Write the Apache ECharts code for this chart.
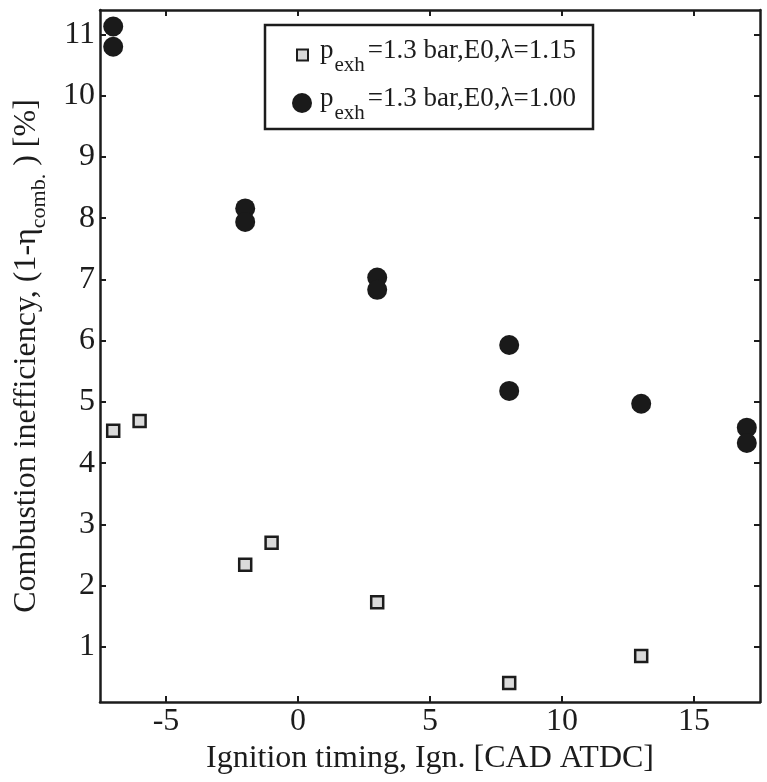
<!DOCTYPE html>
<html>
<head>
<meta charset="utf-8">
<script src="https://cdn.jsdelivr.net/npm/echarts@6/dist/echarts.min.js"></script>
<style>
  html, body { margin: 0; padding: 0; background: #fff; }
  #chart { width: 767px; height: 782px; }
</style>
</head>
<body>
<div id="chart"></div>
<script>
// Ignition timing sweep, p_exh = 1.3 bar, E0 fuel
const timingLean = [-7, -6, -2, -1, 3, 8, 13];
const ineffLean = [4.53, 4.69, 2.34, 2.70, 1.73, 0.41, 0.85];

const timingStoich = [-7, -7, -2, -2, 3, 3, 8, 8, 13, 17, 17];
const ineffStoich = [11.13, 10.80, 8.16, 7.94, 7.03, 6.83, 5.93, 5.18, 4.97, 4.58, 4.33];

const xTicks = [-5, 0, 5, 10, 15];
const yTicks = [1, 2, 3, 4, 5, 6, 7, 8, 9, 10, 11];

const seriesNames = ['λ=1.15', 'λ=1.00'];
const legendText = {
  'λ=1.15': '=1.3 bar,E0,λ=1.15',
  'λ=1.00': '=1.3 bar,E0,λ=1.00'
};

const FONT = '"Liberation Serif", "Times New Roman", serif';
const INK = '#1c1c1c';

const pairs = (xs, ys) => xs.map((x, i) => [x, ys[i]]);

function legendRich(lead) {
  return {
    q: { fontFamily: FONT, fontSize: 27, color: INK, verticalAlign: 'top', padding: [3, 0, 0, lead], lineHeight: 42 },
    p: { fontFamily: FONT, fontSize: 27, color: INK, verticalAlign: 'top', padding: [3, 0, 0, 0], lineHeight: 42 },
    s: { fontFamily: FONT, fontSize: 21, color: INK, verticalAlign: 'bottom', padding: [0, 3, 0, 1], lineHeight: 42 }
  };
}

function legendBlock(name, top, left, size, lead) {
  return {
    data: [name],
    orient: 'vertical',
    left: left,
    top: top,
    padding: 0,
    itemWidth: size,
    itemHeight: size,
    itemGap: 0,
    itemTextGap: 5,
    selectedMode: false,
    formatter: n => '{q|p}{s|exh}{p|' + legendText[n] + '}',
    textStyle: { fontFamily: FONT, fontSize: 27, color: INK, rich: legendRich(lead) }
  };
}

const axisLineStyle = { onZero: false, lineStyle: { color: INK, width: 2.5 } };
const tickStyle = { inside: true, length: 6, lineStyle: { color: INK, width: 2 } };

const chart = echarts.init(document.getElementById('chart'), null, { renderer: 'canvas' });

chart.setOption({
  animation: false,
  backgroundColor: '#fff',
  grid: { left: 100, top: 10, right: 7, bottom: 80, containLabel: false },
  graphic: [{
    type: 'rect',
    z: 1,
    shape: { x: 265, y: 25, width: 328, height: 104 },
    style: { fill: '#fff', stroke: INK, lineWidth: 2.5 }
  }],
  legend: [
    legendBlock(seriesNames[0], 34, 296, 11, 7),
    legendBlock(seriesNames[1], 82, 292, 20, 3)
  ],
  xAxis: [{
    type: 'value',
    min: -7.5,
    max: 17.5,
    position: 'bottom',
    name: 'Ignition timing, Ign. [CAD ATDC]',
    nameLocation: 'middle',
    nameGap: 24,
    nameTextStyle: { fontFamily: FONT, fontSize: 32, color: INK },
    axisLine: axisLineStyle,
    axisTick: Object.assign({ customValues: xTicks }, tickStyle),
    axisLabel: { customValues: xTicks, fontFamily: FONT, fontSize: 32, color: INK, margin: 4 },
    splitLine: { show: false }
  }, {
    type: 'value',
    min: -7.5,
    max: 17.5,
    position: 'top',
    axisLine: axisLineStyle,
    axisTick: Object.assign({ customValues: xTicks }, tickStyle),
    axisLabel: { show: false },
    splitLine: { show: false }
  }],
  yAxis: [{
    type: 'value',
    min: 0.1,
    max: 11.4,
    position: 'left',
    name: '{m|Combustion inefficiency, (1-η}{s|comb.}{m| ) [%]}',
    nameLocation: 'middle',
    nameGap: 50,
    nameTextStyle: {
      fontFamily: FONT, fontSize: 32, color: INK,
      rich: {
        m: { fontFamily: FONT, fontSize: 32, color: INK, verticalAlign: 'top', lineHeight: 39 },
        s: { fontFamily: FONT, fontSize: 22, color: INK, verticalAlign: 'bottom', lineHeight: 39 }
      }
    },
    axisLine: axisLineStyle,
    axisTick: Object.assign({ customValues: yTicks }, tickStyle),
    axisLabel: { customValues: yTicks, fontFamily: FONT, fontSize: 32, color: INK, margin: 5 },
    splitLine: { show: false }
  }, {
    type: 'value',
    min: 0.1,
    max: 11.4,
    position: 'right',
    axisLine: axisLineStyle,
    axisTick: Object.assign({ customValues: yTicks }, tickStyle),
    axisLabel: { show: false },
    splitLine: { show: false }
  }],
  series: [{
    name: seriesNames[0],
    type: 'scatter',
    xAxisIndex: 0,
    yAxisIndex: 0,
    symbol: 'rect',
    symbolSize: 12,
    itemStyle: { color: '#dadada', borderColor: INK, borderWidth: 2.5, opacity: 1 },
    data: pairs(timingLean, ineffLean),
    z: 3
  }, {
    name: seriesNames[1],
    type: 'scatter',
    xAxisIndex: 0,
    yAxisIndex: 0,
    symbol: 'circle',
    symbolSize: 20,
    itemStyle: { color: '#1a1a1a', opacity: 1 },
    data: pairs(timingStoich, ineffStoich),
    z: 3
  }]
});
</script>
</body>
</html>
